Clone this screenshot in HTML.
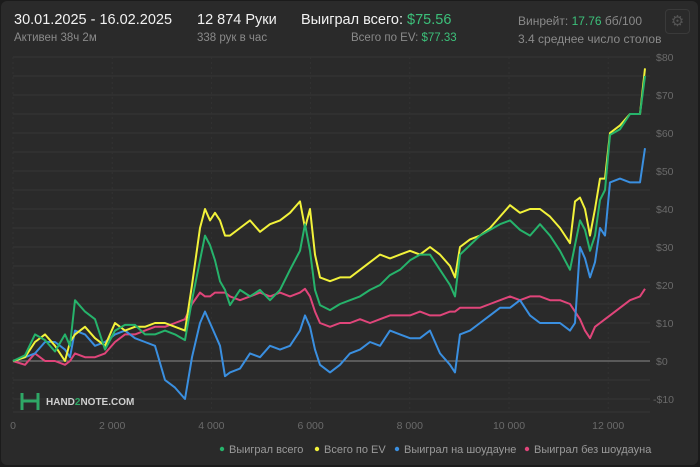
<!DOCTYPE html>
<html><head><meta charset="utf-8"><style>
html,body{margin:0;padding:0;background:#1b1b1b;width:700px;height:467px;overflow:hidden;font-family:"Liberation Sans","DejaVu Sans",sans-serif}
#card{position:absolute;left:1px;top:1px;width:697px;height:464px;background:#2a2a2a;border-radius:6px}
.t{position:absolute;white-space:nowrap}
.big{font-size:14.5px;color:#f2f2f2}
.sm{font-size:11.5px;color:#8a8a8a}
.g{color:#3cc07a}
</style></head><body>
<div id="card">
<div class="t big" style="left:13px;top:11px">30.01.2025 - 16.02.2025</div>
<div class="t sm" style="left:13px;top:31px">Активен 38ч 2м</div>
<div class="t big" style="left:196px;top:11px">12 874 Руки</div>
<div class="t sm" style="left:196px;top:31px">338 рук в час</div>
<div class="t big" style="left:300px;top:11px">Выиграл всего: <span class="g">$75.56</span></div>
<div class="t sm" style="left:350px;top:31px">Всего по EV: <span class="g">$77.33</span></div>
<div class="t sm" style="left:517px;top:13px;font-size:12px">Винрейт: <span class="g">17.76</span> бб/100</div>
<div class="t sm" style="left:517px;top:31px;font-size:12px">3.4 среднее число столов</div>
<div class="t" style="left:664px;top:8px;width:23px;height:23px;border:1px solid #3a3a3a;border-radius:4px;color:#555;font-size:15px;text-align:center;line-height:23px">⚙</div>
</div>
<svg id="chart" width="700" height="467" style="position:absolute;left:0;top:0"></svg>
<script>
const hands=[0,242,444,645,847,1048,1149,1250,1452,1653,1855,2056,2258,2460,2661,2863,3065,3266,3468,3609,3770,3871,3972,4073,4173,4274,4375,4577,4778,4980,5181,5383,5585,5786,5887,5988,6089,6190,6391,6593,6794,6996,7198,7399,7601,7802,8004,8206,8407,8609,8810,8911,9012,9214,9415,9617,9819,10020,10222,10423,10625,10827,11028,11230,11331,11431,11532,11633,11734,11835,11935,12036,12238,12440,12641,12742];
const totalWon=[0,1.5,7,5.5,2.5,7,4,16,13,11,3,8,9.5,9.5,7,7,8,7,5.5,16,26.5,33,30.5,26.5,21,18.7,14.7,18.7,17,18.7,16,18.7,24,29,36,29,18.7,14.7,13.4,15,16,17,18.7,20,22.6,24,26.5,28,28,24,20,17,28,30.5,33,34.5,36,37,34.5,33,36,33,29,24,30.5,37,34.5,29,33,42.4,45,59.5,61,65,65,75];
const totalEV=[0,1,5,7,4,0,5,7,9,6,4,10,8,9,9,10,10,9,8,20,35,40,37,39,37,33,33,35,37,34,36,37,39,42,35,40,28,22,21,22,22,24,26,28,27,28,29,28,30,28,25,22,30,32,33,35,38,41,39,40,40,38,35,31,42,43,40,33,40,48,48,60,62,65,65,77];
const showdown=[0,1,2,5,5,3,1,8,7,4,5,7,8,6,5,4,-5,-7,-10,1,10,13,10,7,4,-4,-3,-2,2,1,4,3,4,8,12,9,3,-1,-3,-1,2,3,5,4,8,7,6,6,8,2,-1,-3,7,8,10,12,14,14,16,12,10,10,10,8,10,30,27,22,26,35,33,47,48,47,47,56];
const nonShowdown=[0,-1,2,0,0,-1,0,2,1,1,2,5,7,7,8,9,9,10,11,15,18,17,17,18,18,18,17,16,17,18,17,18,17,18,19,17,13,10,9,10,10,11,10,11,12,12,12,13,12,12,13,13,14,14,14,15,16,17,16,17,17,16,16,15,13,11,8,6,9,10,11,12,14,16,17,19];
const yTicks=[-10,0,10,20,30,40,50,60,70,80];
const xTicks=[0,2000,4000,6000,8000,10000,12000];
const xLabels=["0","2 000","4 000","6 000","8 000","10 000","12 000"];
const legendNames=["Выиграл всего","Всего по EV","Выиграл на шоудауне","Выиграл без шоудауна"];

const NS="http://www.w3.org/2000/svg";
const svg=document.getElementById('chart');
const X=h=>13+h*0.0496;
const Y=v=>361-v*3.8;
function mk(t,a){const e=document.createElementNS(NS,t);for(const k in a)e.setAttribute(k,a[k]);svg.appendChild(e);return e;}
for(let v=-10;v<=80;v+=5){
 const l=mk('line',{x1:13,x2:650,y1:Y(v),y2:Y(v),stroke:v===0?'#8a8a8a':'#363636','stroke-width':1});
 
 
}
const bl=mk('line',{x1:13,x2:650,y1:412,y2:412,stroke:'#363636'});


xTicks.forEach((t,i)=>{
 const l=mk('line',{x1:X(t),x2:X(t),y1:57,y2:412,stroke:'#323232','stroke-dasharray':'2,3'});
 
 
 const tx=mk('text',{x:X(t),y:429,fill:'#6a6a6a','font-size':10.5,'text-anchor':'middle','font-family':'Liberation Sans, sans-serif'});
 tx.textContent=xLabels[i];
 
 
});
yTicks.forEach(v=>{
 const tx=mk('text',{x:v<0?653:656,y:Y(v)+4,fill:'#6a6a6a','font-size':10.5,'font-family':'Liberation Sans, sans-serif'});
 tx.textContent=(v<0?'-$':'$')+Math.abs(v);
 
 
});
const lg=mk('path',{d:'M22 393 v17 M38 393 v17 M22 401 h16',stroke:'#2fa866','stroke-width':3,fill:'none'});


const lt=mk('text',{x:46,y:405,fill:'#cfcfcf','font-size':10,'font-weight':'bold','font-family':'Liberation Sans, sans-serif'});
lt.innerHTML='HAND<tspan fill="#2fa866">2</tspan>NOTE.COM';


const series=[[nonShowdown,'#e0457a','series-non-showdown'],[showdown,'#3a8fe0','series-showdown'],[totalEV,'#f2f23a','series-total-ev'],[totalWon,'#26b36b','series-total-won']];
series.forEach(([d,c,n])=>{
 const p=mk('polyline',{points:d.map((v,i)=>X(hands[i]).toFixed(1)+','+Y(v).toFixed(1)).join(' '),fill:'none',stroke:c,'stroke-width':2,'stroke-linejoin':'round'});
 
 
});
const lc=['#26b36b','#f2f23a','#3a8fe0','#e0457a'];
const lx=[222,317,397,527];
legendNames.forEach((nm,i)=>{
 const c=mk('circle',{cx:lx[i],cy:449,r:2.2,fill:lc[i]});
 
 
 const t=mk('text',{x:lx[i]+7,y:453,fill:'#9a9a9a','font-size':11,'font-family':'Liberation Sans, sans-serif'});
 t.textContent=nm;
 
 
});
</script>
</body></html>
